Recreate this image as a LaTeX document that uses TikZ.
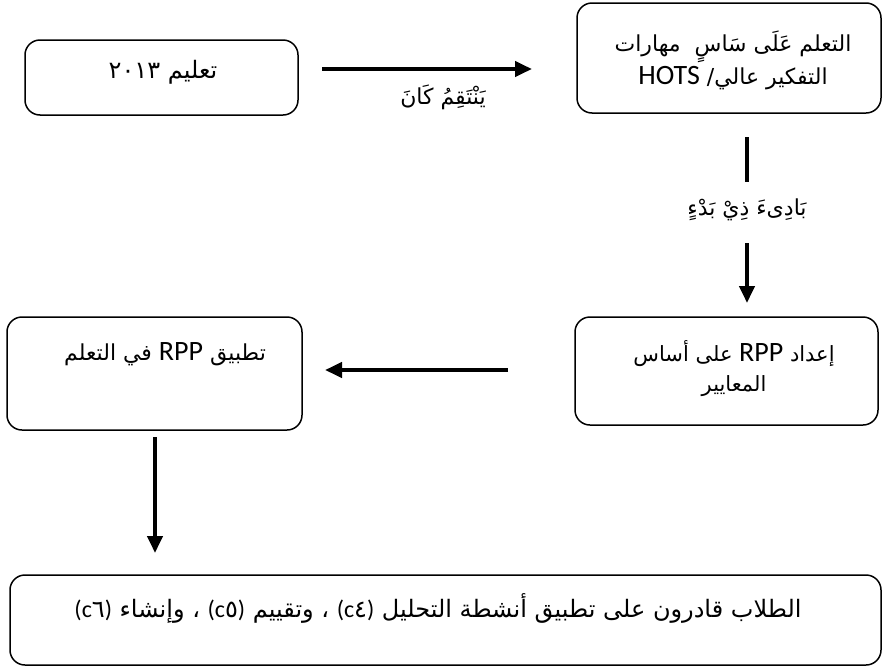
\documentclass[tikz,border=0pt]{standalone}
\usepackage{fontspec}
\setmainfont{Carlito}
\newfontfamily\arabicfont[Script=Arabic]{DejaVu Sans}
\TeXXeTstate=1
\usetikzlibrary{arrows.meta}
\newcommand\latn[1]{{\rmfamily\fontsize{28}{30}\selectfont #1}}
\tikzset{
  boxnode/.style={draw=black, line width=1.5pt, rounded corners=15pt, minimum width=#1, inner sep=0pt},
  txt/.style={align=center, inner sep=2pt, font=\arabicfont\fontsize{24}{33}\selectfont},
  lbl/.style={inner sep=2pt, font=\arabicfont\fontsize{22}{24}\selectfont},
  arr/.style={line width=4pt, -{Triangle[length=17pt,width=15pt]}},
  bar/.style={line width=4pt}
}
\begin{document}
\begin{tikzpicture}[x=1pt,y=-1pt]
\useasboundingbox (0,0) rectangle (883,667);
% boxes
\node[boxnode=273pt, minimum height=75pt] (b1) at (161.5,77.5) {};
\node[boxnode=304pt, minimum height=110pt] (b2) at (729,58) {};
\node[boxnode=303pt, minimum height=108pt] (b3) at (726.5,371) {};
\node[boxnode=295pt, minimum height=113pt] (b4) at (154.5,373.5) {};
\node[boxnode=871pt, minimum height=90pt] (b5) at (445.5,620) {};
% texts
\node[txt] (t1) at (163,72) {\beginR تعليم \beginL ٢٠١٣\endL\endR};
\node[txt, font=\arabicfont\fontsize{22}{33}\selectfont] (t2) at (733,60) {\beginR التعلم عَلَى سَاسٍ~~مهارات\endR\\\beginR التفكير عالي/ \latn{HOTS}\endR};
\node[txt, font=\arabicfont\fontsize{21}{30}\selectfont] (t3) at (734,369) {\beginR إعداد \latn{RPP} على أساس\endR\\\beginR المعايير\endR};
\node[txt, font=\arabicfont\fontsize{22}{30}\selectfont] (t4) at (165,354) {\beginR تطبيق \latn{RPP} في التعلم\endR};
\node[txt] (t5) at (438,608) {\beginR الطلاب قادرون على تطبيق أنشطة التحليل \beginL{\rmfamily(c}٤{\rmfamily)}\endL{} ، وتقييم \beginL{\rmfamily(c}٥{\rmfamily)}\endL{} ، وإنشاء \beginL{\rmfamily(c}٦{\rmfamily)}\endL\endR};
% arrow 1
\coordinate (a1s) at (322,69);
\coordinate (a1e) at (532,69);
\draw[arr] (a1s) -- (a1e);
\node[lbl] (l1) at (443,97) {\beginR يَنْتَقِمُ كَانَ\endR};
% vertical arrow with label
\coordinate (a2s) at (747,137);
\coordinate (a2m) at (747,182);
\coordinate (a2n) at (747,243);
\coordinate (a2e) at (747,303);
\node[lbl] (l2) at (747,210) {\beginR بَادِىءَ ذِيْ بَدْءٍ\endR};
\draw[bar] (a2s) -- (a2m);
\draw[arr] (a2n) -- (a2e);
% arrow left
\coordinate (a3s) at (508,370);
\coordinate (a3e) at (325,370);
\draw[arr] (a3s) -- (a3e);
% arrow down
\coordinate (a4s) at (155,437);
\coordinate (a4e) at (155,553);
\draw[arr] (a4s) -- (a4e);
\end{tikzpicture}
\end{document}
